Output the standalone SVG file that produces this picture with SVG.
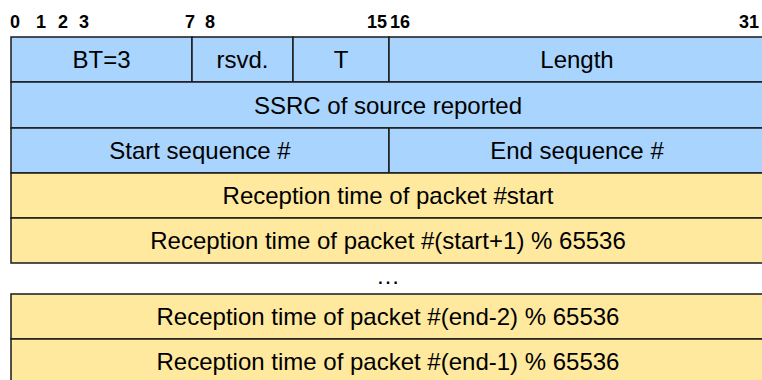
<svg xmlns="http://www.w3.org/2000/svg" width="762" height="380" viewBox="0 0 762 380">
  <style>
    .bits { font-family: "Liberation Sans", Arial, sans-serif; font-size: 18px; font-weight: bold; fill: #000; }
    .lbl { font-family: "Liberation Sans", Arial, sans-serif; font-size: 24px; fill: #000; text-anchor: middle; }
    .hdr { fill: #a8d4fd; stroke: #1a1a1a; stroke-width: 1.5; }
    .tim { fill: #fee99f; stroke: #1a1a1a; stroke-width: 1.5; }
  </style>

  <!-- bit offsets -->
  <g id="bit-ruler">
    <text class="bits" x="10" y="28">0</text>
    <text class="bits" x="36" y="28">1</text>
    <text class="bits" x="58" y="28">2</text>
    <text class="bits" x="79" y="28">3</text>
    <text class="bits" x="185" y="28">7</text>
    <text class="bits" x="205" y="28">8</text>
    <text class="bits" x="367" y="28">15</text>
    <text class="bits" x="390" y="28">16</text>
    <text class="bits" x="739" y="28">31</text>
  </g>

  <!-- word 0: block header -->
  <g id="row-header">
    <g id="cell-bt">
      <rect class="hdr" x="11" y="37" width="181" height="45"/>
      <text class="lbl" x="101.5" y="68">BT=3</text>
    </g>
    <g id="cell-rsvd">
      <rect class="hdr" x="192" y="37" width="101" height="45"/>
      <text class="lbl" x="242.5" y="68">rsvd.</text>
    </g>
    <g id="cell-t">
      <rect class="hdr" x="293" y="37" width="96" height="45"/>
      <text class="lbl" x="341" y="68">T</text>
    </g>
    <g id="cell-length">
      <rect class="hdr" x="389" y="37" width="376" height="45"/>
      <text class="lbl" x="577" y="68">Length</text>
    </g>
  </g>

  <!-- word 1: SSRC -->
  <g id="row-ssrc">
    <rect class="hdr" x="11" y="82" width="754" height="46"/>
    <text class="lbl" x="388" y="114">SSRC of source reported</text>
  </g>

  <!-- word 2: sequence range -->
  <g id="row-seq">
    <g id="cell-start-seq">
      <rect class="hdr" x="11" y="128" width="378" height="45"/>
      <text class="lbl" x="200" y="159">Start sequence #</text>
    </g>
    <g id="cell-end-seq">
      <rect class="hdr" x="389" y="128" width="376" height="45"/>
      <text class="lbl" x="577" y="159">End sequence #</text>
    </g>
  </g>

  <!-- reception time entries -->
  <g id="row-time-start">
    <rect class="tim" x="11" y="173" width="754" height="45"/>
    <text class="lbl" x="388" y="204">Reception time of packet #start</text>
  </g>
  <g id="row-time-start1">
    <rect class="tim" x="11" y="218" width="754" height="45"/>
    <text class="lbl" x="388" y="249">Reception time of packet #(start+1) % 65536</text>
  </g>

  <g id="row-ellipsis">
    <text class="lbl" x="388" y="284">…</text>
  </g>

  <g id="row-time-end2">
    <rect class="tim" x="11" y="294" width="754" height="45"/>
    <text class="lbl" x="388" y="325">Reception time of packet #(end-2) % 65536</text>
  </g>
  <g id="row-time-end1">
    <rect class="tim" x="11" y="339" width="754" height="46"/>
    <text class="lbl" x="388" y="370">Reception time of packet #(end-1) % 65536</text>
  </g>

  <!-- no connectors in this layout -->
  <g id="connectors"/>
</svg>
